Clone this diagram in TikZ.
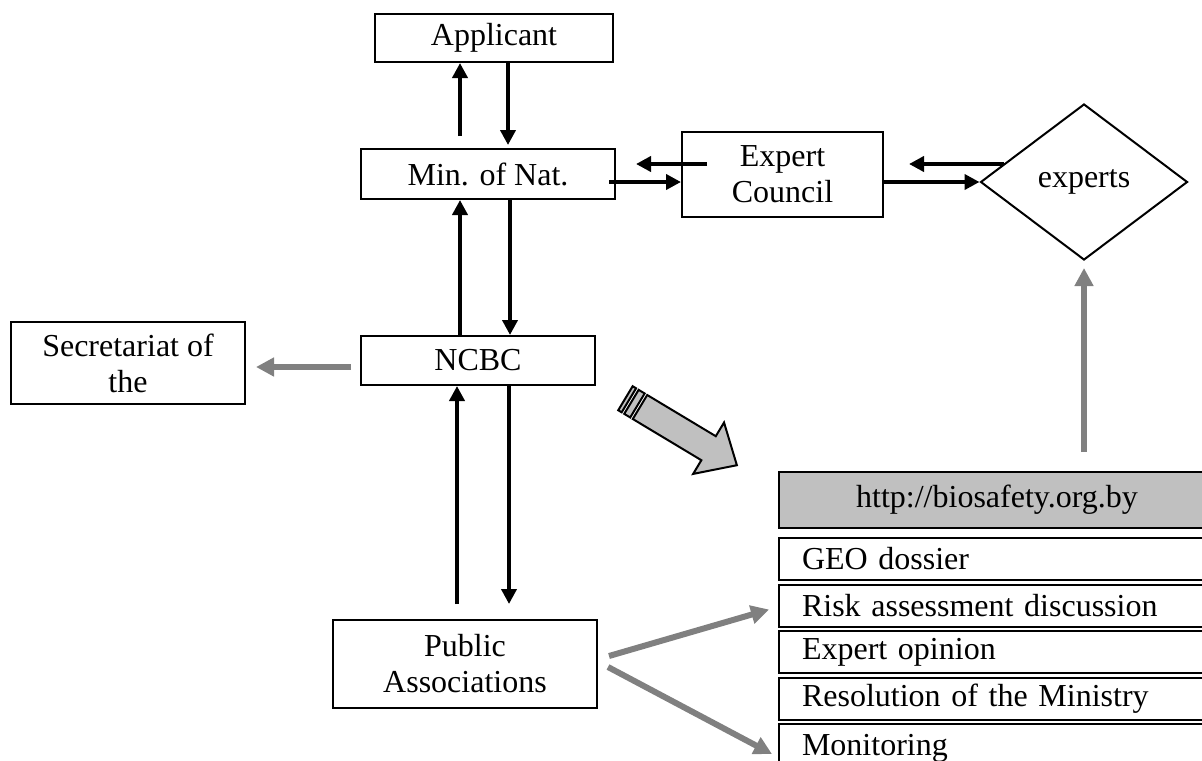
\documentclass[tikz,border=0pt]{standalone}
\usepackage{fontspec}
\setmainfont{Liberation Serif}
\usetikzlibrary{arrows.meta,positioning,shapes.geometric}
\definecolor{arr}{RGB}{128,128,128}
\definecolor{hdr}{RGB}{192,192,192}
\tikzset{
  box/.style={draw,line width=1pt,fill=white,align=center,inner sep=0pt,font=\fontsize{16}{18}\selectfont},
  rowbox/.style={box,minimum width=218pt,minimum height=21pt,text width=195pt,inner xsep=11.5pt,align=left},
  ar/.style={-{Triangle[length=7.5pt,width=7.5pt]},line width=2pt},
  gar/.style={-{Triangle[length=9pt,width=9pt]},line width=3pt,draw=arr,color=arr},
}
\begin{document}
\begin{tikzpicture}[x=0.5pt,y=-0.5pt]
  \useasboundingbox (0,0) rectangle (1202,760);
  \clip (0,0) rectangle (1202,760);
  % boxes
  \node[box,minimum width=119pt,minimum height=24pt] (app) at (494,38) {Applicant};
  \node[box,minimum width=127pt,minimum height=25pt] (min) at (488,174) {Min. of Nat.};
  \node[box,minimum width=100.5pt,minimum height=42.5pt] (ec) at (782.5,174) {Expert\\Council};
  \node[box,diamond,minimum width=103.5pt,minimum height=78pt] (exp) at (1084,182) {experts};
  \node[box,minimum width=117pt,minimum height=24.5pt] (ncbc) at (478,360.5) {NCBC};
  \node[box,minimum width=117pt,minimum height=41pt] (sec) at (128,363) {Secretariat of\\the};
  \node[box,minimum width=132pt,minimum height=44pt] (pub) at (465,664) {Public\\Associations};
  \node[box,fill=hdr,minimum width=218pt,minimum height=28pt] (url) at (997,500) {http://biosafety.org.by};
  \node[rowbox,below=4pt of url] (r1) {GEO dossier};
  \node[rowbox,below=1.25pt of r1] (r2) {Risk assessment discussion};
  \node[rowbox,below=1.25pt of r2] (r3) {Expert opinion};
  \node[rowbox,below=1.25pt of r3] (r4) {Resolution of the Ministry};
  \node[rowbox,below=1.25pt of r4,minimum height=24pt] (r5) {Monitoring};
  % black arrows
  \draw[ar] ([xshift=-14pt,yshift=6pt]min.north) -- ([xshift=-14pt]min.north |- app.south);
  \draw[ar] ([xshift=10pt]min.north |- app.south) -- ([xshift=10pt,yshift=1.5pt]min.north);
  \draw[ar] ([xshift=-14pt]min.south |- ncbc.north) -- ([xshift=-14pt]min.south);
  \draw[ar] ([xshift=11pt]min.south) -- ([xshift=11pt]min.south |- ncbc.north);
  \draw[ar] ([xshift=-10.5pt,yshift=7.5pt]ncbc.south |- pub.north) -- ([xshift=-10.5pt]ncbc.south);
  \draw[ar] ([xshift=15.5pt]ncbc.south) -- ([xshift=15.5pt,yshift=7.5pt]ncbc.south |- pub.north);
  \draw[ar] ([xshift=13pt,yshift=5pt]ec.west) -- ([xshift=10pt,yshift=5pt]min.east);
  \draw[ar] ([xshift=-3.5pt,yshift=-4pt]min.east) -- ([yshift=-4pt]ec.west);
  \draw[ar] ([xshift=12pt,yshift=9pt]exp.west) -- ([xshift=12.5pt,yshift=5pt]ec.east);
  \draw[ar] ([yshift=-4pt]ec.east) -- (exp.west);
  % grey arrows
  \draw[gar] ([xshift=-4.5pt,yshift=-3.25pt]ncbc.west) -- ([xshift=5pt,yshift=-3.25pt]ncbc.west -| sec.east);
  \draw[gar] ([yshift=9.5pt]exp.south |- url.north) -- ([yshift=-3.5pt]exp.south);
  \draw[gar] ([xshift=5.5pt,yshift=4pt]pub.east) -- ([xshift=-4.5pt,yshift=-2pt]r2.west);
  \draw[gar] ([xshift=5pt,yshift=-1.5pt]pub.east) -- ([xshift=-3pt,yshift=-3pt]r5.west);
  % striped arrow
  \begin{scope}[shift={(640,407)},rotate=-31]
    \draw[line width=1pt,fill=hdr] (0,14) -- (80,14) -- (80,30) -- (113,0) -- (80,-30) -- (80,-14) -- (0,-14) -- cycle;
    \draw[line width=1pt,fill=hdr] (-3,14) rectangle (-10,-14);
    \draw[line width=1pt,fill=hdr] (-13,14) rectangle (-17,-14);
  \end{scope}
\end{tikzpicture}
\end{document}
